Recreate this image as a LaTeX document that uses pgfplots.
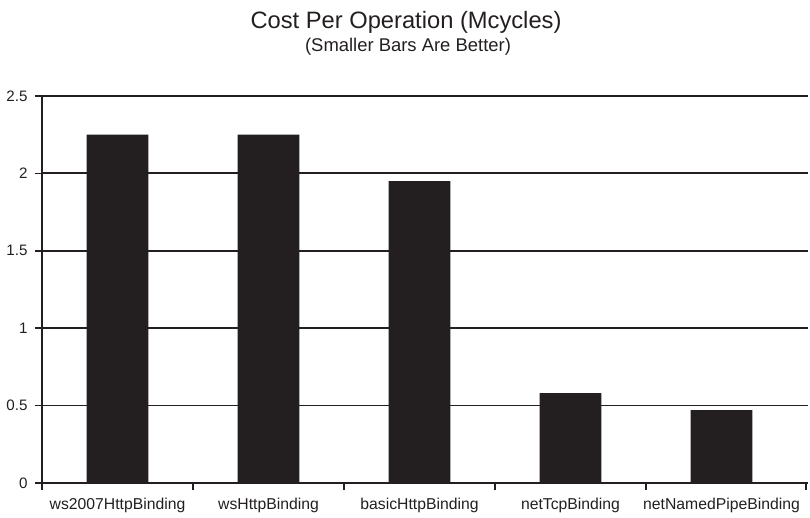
\documentclass[border=0pt]{standalone}
\usepackage{fontspec}
\setmainfont{Liberation Sans}
\usepackage{pgfplots}
\pgfplotsset{compat=1.18}
\definecolor{ink}{HTML}{231F20}

\begin{document}
\begin{tikzpicture}
\begin{axis}[
  at={(42bp,35bp)}, anchor=south west,
  scale only axis,
  width=766bp, height=387bp,
  xmin=-0.5, xmax=4.573,
  ymin=0, ymax=2.5,
  axis x line=bottom, axis y line=left,
  axis line style={ink, line width=1.8bp, -},
  ytick={0,0.5,...,2.5},
  yticklabels={0,0.5,1,1.5,2,2.5},
  yticklabel style={xshift=-4bp},
  ymajorgrids,
  major grid style={ink, line width=1.8bp},
  xtick={-0.5,0.5,1.5,2.5,3.5,4.56},
  xticklabels={},
  extra x ticks={0,1,2,3,4},
  extra x tick labels={ws2007HttpBinding,wsHttpBinding,basicHttpBinding,netTcpBinding,netNamedPipeBinding},
  extra x tick style={major tick length=0pt, grid=none,
    xticklabel style={anchor=base, yshift=-27bp, font=\fontsize{15.8}{15.8}\selectfont}},
  tick align=outside,
  major tick length=7bp,
  tick style={ink, line width=1.6bp},
  tick label style={font=\fontsize{15.2}{15.2}\selectfont, text=ink},
  /pgf/number format/assume math mode=true,
  ybar, bar width=0.41,
  clip=false,
]
\addplot[fill=ink, draw=none] coordinates {
  (0,2.25) (1,2.25) (2,1.95) (3,0.58) (4,0.47)
};
\end{axis}
\pgfresetboundingbox
\path (0,0) rectangle (810bp,518bp);
\node[anchor=base, text=ink, font=\fontsize{23.8}{23.8}\selectfont] at (406bp,489.4bp) {Cost Per Operation (Mcycles)};
\node[anchor=base, text=ink, font=\fontsize{18.5}{18.5}\selectfont] at (408bp,466.3bp) {(Smaller Bars Are Better)};
\end{tikzpicture}
\end{document}
